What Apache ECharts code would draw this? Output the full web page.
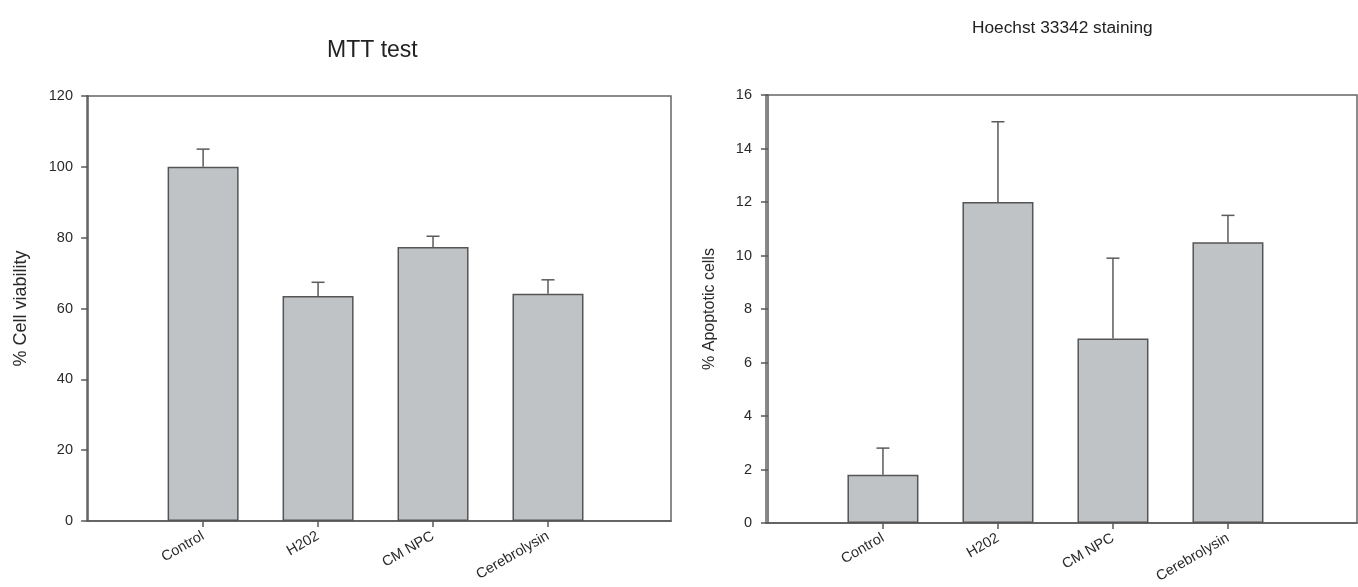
<!DOCTYPE html>
<html>
<head>
<meta charset="utf-8">
<script src="https://cdn.jsdelivr.net/npm/echarts@6/dist/echarts.min.js"></script>
<style>
  html, body { margin: 0; padding: 0; background: #fff; }
  #chart { width: 1358px; height: 587px; }
</style>
</head>
<body>
<div id="chart"></div>
<script>
// Treatment groups (shared by both panels)
const categories = ['Control', 'H202', 'CM NPC', 'Cerebrolysin'];

// MTT test: % cell viability, mean and error
const viability = [100, 63.5, 77.4, 64.2];
const viabilityErr = [5.0, 3.9, 3.0, 3.9];
const viabilityTicks = [0, 20, 40, 60, 80, 100, 120];

// Hoechst 33342 staining: % apoptotic cells, mean and error
const apoptotic = [1.8, 12.0, 6.9, 10.5];
const apoptoticErr = [1.0, 3.0, 3.0, 1.0];
const apoptoticTicks = [0, 2, 4, 6, 8, 10, 12, 14, 16];

const positions = categories.map((_, i) => i + 1);
const FONT = '"Liberation Sans", Arial, sans-serif';
const LINE = '#5a5a5a';
const TEXT = '#2a2a2a';
const BAR = '#c0c3c6';

function xAxisFor(gridIndex, min, max) {
  return {
    type: 'value', gridIndex, min, max,
    axisLine: { show: true, onZero: false, lineStyle: { color: LINE, width: 1.5 } },
    axisTick: { show: true, customValues: positions, length: 6, inside: false,
                lineStyle: { color: LINE, width: 1.5 } },
    axisLabel: { show: true, customValues: positions, rotate: 30, margin: 14,
                 formatter: v => categories[Math.round(v) - 1] || '',
                 fontFamily: FONT, fontSize: 14.5, color: TEXT },
    splitLine: { show: false }
  };
}

function yAxisFor(gridIndex, ticks, name, nameGap, nameSize) {
  const step = ticks[1] - ticks[0];
  return {
    type: 'value', gridIndex,
    min: ticks[0], max: ticks[ticks.length - 1], interval: step,
    name, nameLocation: 'middle', nameGap,
    nameTextStyle: { fontFamily: FONT, fontSize: nameSize, color: TEXT },
    axisLine: { show: true, lineStyle: { color: LINE, width: 1.5 } },
    axisTick: { show: true, length: 7, lineStyle: { color: LINE, width: 1.5 } },
    axisLabel: { margin: 14, fontFamily: FONT, fontSize: 14.5, color: TEXT },
    splitLine: { show: false }
  };
}

function barSeries(idx, values) {
  return {
    type: 'bar', xAxisIndex: idx, yAxisIndex: idx,
    barWidth: 71,
    data: values.map((v, i) => [positions[i], v]),
    itemStyle: { color: BAR, borderColor: '#555', borderWidth: 1.5 },
    silent: true, z: 2
  };
}

function errorSeries(idx, values, errs) {
  return {
    type: 'custom', xAxisIndex: idx, yAxisIndex: idx,
    data: values.map((v, i) => [positions[i], v, v + errs[i]]),
    renderItem: (params, api) => {
      const base = api.coord([api.value(0), api.value(1)]);
      const top = api.coord([api.value(0), api.value(2)]);
      const half = 6.5;
      const style = { stroke: LINE, lineWidth: 1.5, fill: null };
      return {
        type: 'group',
        children: [
          { type: 'line', shape: { x1: base[0], y1: base[1], x2: top[0], y2: top[1] }, style },
          { type: 'line', shape: { x1: top[0] - half, y1: top[1], x2: top[0] + half, y2: top[1] }, style }
        ]
      };
    },
    silent: true, z: 1
  };
}

const chart = echarts.init(document.getElementById('chart'), null, { renderer: 'canvas' });
chart.setOption({
  backgroundColor: '#fff',
  animation: false,
  title: [
    { text: 'MTT test', left: 322, top: 34,
      textStyle: { fontFamily: FONT, fontSize: 23, fontWeight: 'normal', color: '#222' } },
    { text: 'Hoechst 33342 staining', left: 967, top: 15,
      textStyle: { fontFamily: FONT, fontSize: 17.3, fontWeight: 'normal', color: '#222' } }
  ],
  grid: [
    { left: 87, top: 96, width: 584, height: 425, show: true,
      borderColor: '#666', borderWidth: 1.5, backgroundColor: 'transparent' },
    { left: 766, top: 95, width: 591, height: 428, show: true,
      borderColor: '#666', borderWidth: 1.5, backgroundColor: 'transparent' }
  ],
  xAxis: [
    xAxisFor(0, -0.01, 5.07),
    xAxisFor(1, -0.017, 5.122)
  ],
  yAxis: [
    yAxisFor(0, viabilityTicks, '% Cell viability', 57, 18),
    yAxisFor(1, apoptoticTicks, '% Apoptotic cells', 48, 16)
  ],
  series: [
    barSeries(0, viability),
    errorSeries(0, viability, viabilityErr),
    barSeries(1, apoptotic),
    errorSeries(1, apoptotic, apoptoticErr)
  ]
});
</script>
</body>
</html>
